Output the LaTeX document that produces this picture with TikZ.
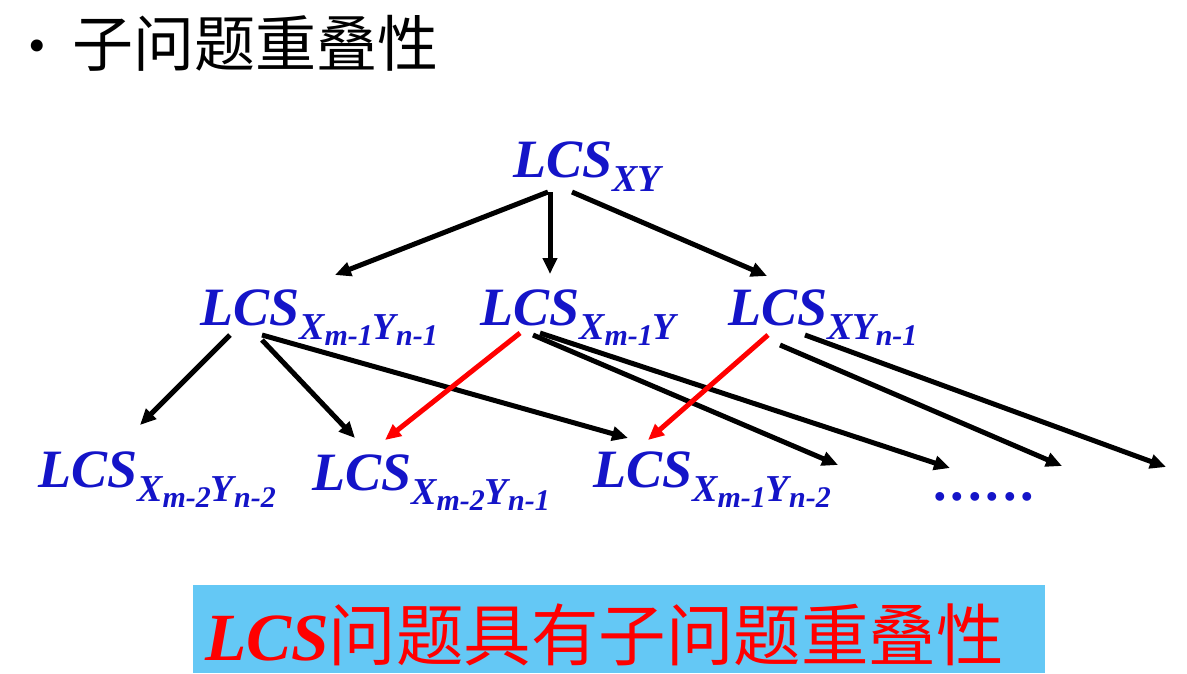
\documentclass[tikz,border=0pt]{standalone}
\usepackage{fontspec}
\setmainfont{Liberation Serif}
\newfontfamily\cjk{Noto Sans CJK SC}
\usetikzlibrary{arrows.meta}
\definecolor{lcsblue}{RGB}{20,20,200}
\definecolor{boxcyan}{RGB}{100,200,245}
\newcommand\lo[1]{\raisebox{-0.6ex}{\fontsize{38}{38}\selectfont #1}}
\newcommand\llo[1]{\raisebox{-0.3ex}{\fontsize{30}{30}\selectfont #1}}
\tikzset{
 lcs/.style={font=\fontsize{54}{54}\selectfont\bfseries\itshape, text=lcsblue, inner sep=0pt, anchor=base west},
 arr/.style={line width=5pt, -{Triangle[length=16pt,width=14pt]}},
 blk/.style={arr, draw=black},
 redarr/.style={arr, draw=red}
}
\begin{document}
\begin{tikzpicture}[x=1pt,y=-1pt]
\useasboundingbox (0,0) rectangle (1187,673);
\fill[white] (0,0) rectangle (1187,673);
\node[anchor=base west, font=\fontsize{50}{50}\selectfont, inner sep=0pt] (bul) at (28,62) {•};
\node[anchor=base west, font=\cjk\fontsize{61}{61}\selectfont, inner sep=0pt] (title) at (72,66) {子问题重叠性};
% nodes
\node[lcs] (n0) at (513,177) {LCS\lo{XY}};
\node[lcs] (n1) at (200,325) {LCS\lo{X\llo{m-1}Y\llo{n-1}}};
\node[lcs] (n2) at (480,325) {LCS\lo{X\llo{m-1}Y}};
\node[lcs] (n3) at (728,325) {LCS\lo{XY\llo{n-1}}};
\node[lcs] (n4) at (38,487) {LCS\lo{X\llo{m-2}Y\llo{n-2}}};
\node[lcs] (n5) at (312,490) {LCS\lo{X\llo{m-2}Y\llo{n-1}}};
\node[lcs] (n6) at (593,487) {LCS\lo{X\llo{m-1}Y\llo{n-2}}};
\node[lcs] (n7) at (935,500) {.\hspace{4pt}.\hspace{4pt}.\hspace{4pt}.\hspace{4pt}.\hspace{4pt}.};
% arrow endpoints
\coordinate (a0) at (548,192); \coordinate (b0) at (335,275);
\coordinate (a1) at (550,192); \coordinate (b1) at (550,274);
\coordinate (a2) at (572,192); \coordinate (b2) at (767,276);
\coordinate (c1) at (230,335); \coordinate (d1) at (140,425);
\coordinate (c2) at (262,340); \coordinate (d2) at (355,438);
\coordinate (c3) at (262,335); \coordinate (d3) at (628,438);
\coordinate (c4) at (520,333); \coordinate (d4) at (385,440);
\coordinate (c5) at (533,335); \coordinate (d5) at (838,465);
\coordinate (c6) at (540,333); \coordinate (d6) at (950,468);
\coordinate (c7) at (768,335); \coordinate (d7) at (648,440);
\coordinate (c8) at (780,345); \coordinate (d8) at (1062,466);
\coordinate (c9) at (805,335); \coordinate (d9) at (1166,467);
\draw[blk] (a0) -- (b0);
\draw[blk] (a1) -- (b1);
\draw[blk] (a2) -- (b2);
\draw[blk] (c1) -- (d1);
\draw[blk] (c2) -- (d2);
\draw[blk] (c3) -- (d3);
\draw[blk] (c5) -- (d5);
\draw[blk] (c6) -- (d6);
\draw[blk] (c8) -- (d8);
\draw[blk] (c9) -- (d9);
\draw[redarr] (c4) -- (d4);
\draw[redarr] (c7) -- (d7);
% bottom box
\fill[boxcyan] (193,585) rectangle (1045,673);
\node[anchor=base west, inner sep=0pt, text=red, font=\fontsize{67.5}{67.5}\selectfont] (concl) at (205,660)
 {\bfseries\itshape LCS\normalfont\cjk 问题具有子问题重叠性};
\end{tikzpicture}
\end{document}
